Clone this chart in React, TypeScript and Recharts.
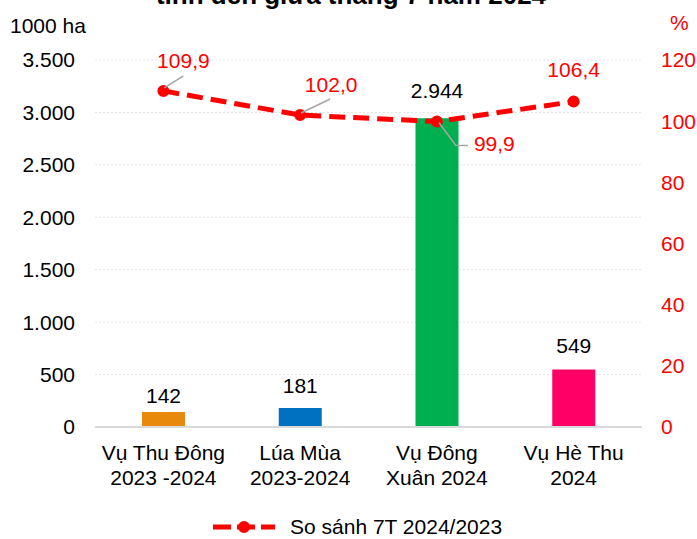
import React from 'react';
import {
  ComposedChart, Bar, Line, XAxis, YAxis, CartesianGrid, Legend, Cell, LabelList,
} from 'recharts';

const categories = ['Vụ Thu Đông\n2023 -2024', 'Lúa Mùa\n2023-2024', 'Vụ Đông\nXuân 2024', 'Vụ Hè Thu\n2024'];
const areaValues = [142, 181, 2944, 549];
const pctValues = [109.9, 102.0, 99.9, 106.4];
const leftTicks = [0, 500, 1000, 1500, 2000, 2500, 3000, 3500];
const rightTicks = [0, 20, 40, 60, 80, 100, 120];
const barColors = ['#E8890C', '#0070C0', '#00B050', '#FF0066'];
const seriesName = 'So sánh 7T 2024/2023';
const titleText = 'tính đến giữa tháng 7 năm 2024';

const data = categories.map((c, i) => ({ name: c, area: areaValues[i], pct: pctValues[i] }));

const FONT = '"Liberation Sans", Arial, sans-serif';
const FS = 21;
const RED = '#FF0000';

const fmtThousands = (n: number) => String(n).replace(/\B(?=(\d{3})+(?!\d))/g, '.');
const fmtDec = (n: number) => n.toFixed(1).replace('.', ',');

// style: label gaps above bars
const barLabelGap = [9, 15, 20, 16];
// style: line-label placement relative to the point
const lineLabelPos = [
  { dx: 20, dy: -23, anchor: 'middle', leader: [[1, -3], [20, -15]] },
  { dx: 31, dy: -23, anchor: 'middle', leader: [[1, -2], [30, -16]] },
  { dx: 37, dy: 30, anchor: 'start', leader: [[2, 1], [19, 24], [31, 24]] },
  { dx: 0, dy: -25, anchor: 'middle', leader: null },
];

const XTick = (props: any) => {
  const { x, y, payload } = props;
  const lines = String(payload.value).split('\n');
  return (
    <text x={x} y={y} textAnchor="middle" fontFamily={FONT} fontSize={FS} fill="#000">
      {lines.map((l, i) => (
        <tspan key={i} x={x} dy={i === 0 ? 31 : 25}>{l}</tspan>
      ))}
    </text>
  );
};

const BarLabel = (props: any) => {
  const { x, y, width, value, index } = props;
  return (
    <text x={x + width / 2} y={y - barLabelGap[index]} textAnchor="middle" fontFamily={FONT} fontSize={FS} fill="#000">
      {fmtThousands(value)}
    </text>
  );
};

const LineLabel = (props: any) => {
  const px = props.x ?? props.viewBox?.x;
  const py = props.y ?? props.viewBox?.y;
  const { value, index } = props;
  const p = lineLabelPos[index];
  return (
    <g>
      {p.leader && (
        <polyline
          points={p.leader.map(([a, b]) => `${px + a},${py + b}`).join(' ')}
          fill="none"
          stroke="#A6A6A6"
          strokeWidth={1.5}
        />
      )}
      <text x={px + p.dx} y={py + p.dy} textAnchor={p.anchor as any} fontFamily={FONT} fontSize={FS} fill={RED}>
        {fmtDec(value)}
      </text>
    </g>
  );
};

const LegendContent = () => (
  <div style={{ height: 24, position: 'relative' }}>
    <svg width={697} height={24} style={{ display: 'block' }}>
      <line x1={213} y1={12} x2={275} y2={12} stroke={RED} strokeWidth={5} strokeDasharray="18 6" />
      <circle cx={244} cy={12} r={5} fill={RED} stroke={RED} strokeWidth={2} />
      <text x={290} y={19} fontFamily={FONT} fontSize={FS} fill="#000">{seriesName}</text>
    </svg>
  </div>
);

export default function App() {
  return (
    <div style={{ position: 'absolute', left: 0, top: 0, width: 697, height: 539, background: '#fff' }}>
      <ComposedChart width={697} height={539} data={data} margin={{ top: 60, right: 0, bottom: 0, left: 0 }}>
        <CartesianGrid vertical={false} yAxisId="left" stroke="#E3E3E3" strokeDasharray="2 2" />
        <XAxis
          dataKey="name"
          interval={0}
          tickLine={false}
          tickSize={0}
          height={88}
          axisLine={{ stroke: '#D9D9D9', strokeWidth: 2 }}
          tick={<XTick />}
        />
        <YAxis
          yAxisId="left"
          domain={[0, 3500]}
          ticks={leftTicks}
          width={95}
          axisLine={false}
          tickLine={false}
          tickSize={0}
          tickMargin={20}
          tickFormatter={fmtThousands}
          tick={{ fontFamily: FONT, fontSize: FS, fill: '#000' }}
        />
        <YAxis
          yAxisId="right"
          orientation="right"
          domain={[0, 120]}
          ticks={rightTicks}
          width={55}
          axisLine={false}
          tickLine={false}
          tickSize={0}
          tickMargin={19}
          tick={{ fontFamily: FONT, fontSize: FS, fill: RED, textAnchor: 'start' }}
        />
        <Bar yAxisId="left" dataKey="area" barSize={43} isAnimationActive={false} legendType="none">
          {areaValues.map((_, i) => (
            <Cell key={i} fill={barColors[i]} />
          ))}
          <LabelList dataKey="area" content={<BarLabel />} />
        </Bar>
        <Line
          yAxisId="right"
          dataKey="pct"
          name={seriesName}
          stroke={RED}
          strokeWidth={5}
          strokeDasharray="16 8"
          dot={{ r: 5, fill: RED, stroke: RED, strokeWidth: 2, strokeDasharray: '' }}
          isAnimationActive={false}
        >
          <LabelList dataKey="pct" content={<LineLabel />} />
        </Line>
        <Legend verticalAlign="bottom" content={<LegendContent />} />
      </ComposedChart>
      <svg width={697} height={539} style={{ position: 'absolute', left: 0, top: 0, pointerEvents: 'none' }}>
        <text x={351} y={3.5} textAnchor="middle" fontFamily={FONT} fontSize={26} fontWeight="bold" fill="#000">{titleText}</text>
        <text x={10} y={33} fontFamily={FONT} fontSize={FS} fill="#000">1000 ha</text>
        <text x={670} y={30} fontFamily={FONT} fontSize={FS} fill={RED}>%</text>
      </svg>
    </div>
  );
}
